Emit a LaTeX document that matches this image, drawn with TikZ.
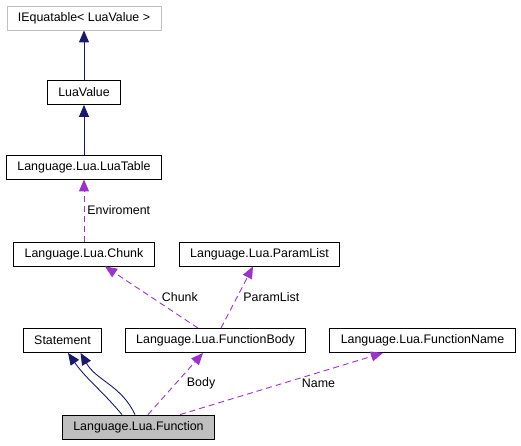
\documentclass[tikz,border=0pt]{standalone}
\usepackage{fontspec}
\setmainfont{Liberation Sans}
\usetikzlibrary{arrows.meta,positioning}
\definecolor{inhblue}{HTML}{191970}
\definecolor{usepurple}{HTML}{9A32CD}
\definecolor{boxgray}{HTML}{BFBFBF}
\tikzstyle{cls} = [draw, rectangle, fill=white, minimum height=24pt,
    inner xsep=11pt, line width=0.8pt, font=\fontsize{12.4}{14}\selectfont]
\tikzstyle{inherit} = [-{Triangle[length=12pt,width=10pt]}, inhblue, line width=0.9pt]
\tikzstyle{uses} = [-{Triangle[length=12pt,width=10pt]}, usepurple,
    dash pattern=on 6pt off 4pt, line width=0.9pt]
\tikzstyle{lbl} = [black, inner sep=0pt, font=\fontsize{12.4}{14}\selectfont]

\begin{document}
\begin{tikzpicture}[x=1pt, y=-1pt, node distance=74.5pt]
  \useasboundingbox (0,0) rectangle (521,445);
  \node [cls, draw=boxgray] (iequ) at (84,18) {IEquatable< LuaValue >};
  \node [cls, below of=iequ] (luaval) {LuaValue};
  \node [cls, below of=luaval] (luatab) {Language.Lua.LuaTable};
  \node [cls, below of=luatab, node distance=87pt] (chunk) {Language.Lua.Chunk};
  \node [cls, right of=chunk, node distance=175.5pt] (plist) {Language.Lua.ParamList};
  \node [cls, below of=chunk, node distance=86.5pt, xshift=-21.5pt] (stmt) {Statement};
  \node [cls, right of=stmt, node distance=153pt] (fbody) {Language.Lua.FunctionBody};
  \node [cls, right of=fbody, node distance=207pt] (fname) {Language.Lua.FunctionName};
  \node [cls, fill=boxgray, below of=stmt, node distance=86.5pt, xshift=76pt] (func) {Language.Lua.Function};
  \draw [inherit] (luaval) -- (iequ);
  \draw [inherit] (luatab) -- (luaval);
  \draw [uses] (chunk) -- node [lbl, midway, right=3pt] {Enviroment} (luatab);
  \draw [uses] ([xshift=-17.5pt]fbody.north) -- node [lbl, midway, right=10pt] {Chunk} ([xshift=21pt]chunk.south);
  \draw [uses] ([xshift=5.5pt]fbody.north) -- node [lbl, midway, right=6pt] {ParamList} ([xshift=-6.5pt]plist.south);
  \draw [inherit] ([xshift=-16.5pt]func.north) to [out=130, in=-55] ([xshift=5.5pt]stmt.south);
  \draw [inherit] ([xshift=-3.5pt]func.north) to [out=115, in=-60] ([xshift=18pt]stmt.south);
  \draw [uses] ([xshift=9.5pt]func.north) -- node [lbl, midway, right=11pt] {Body} ([xshift=-12.5pt]fbody.south);
  \draw [uses] ([xshift=41.5pt]func.north) -- node [lbl, midway, right=20pt] {Name} ([xshift=-39.5pt]fname.south);
\end{tikzpicture}
\end{document}
